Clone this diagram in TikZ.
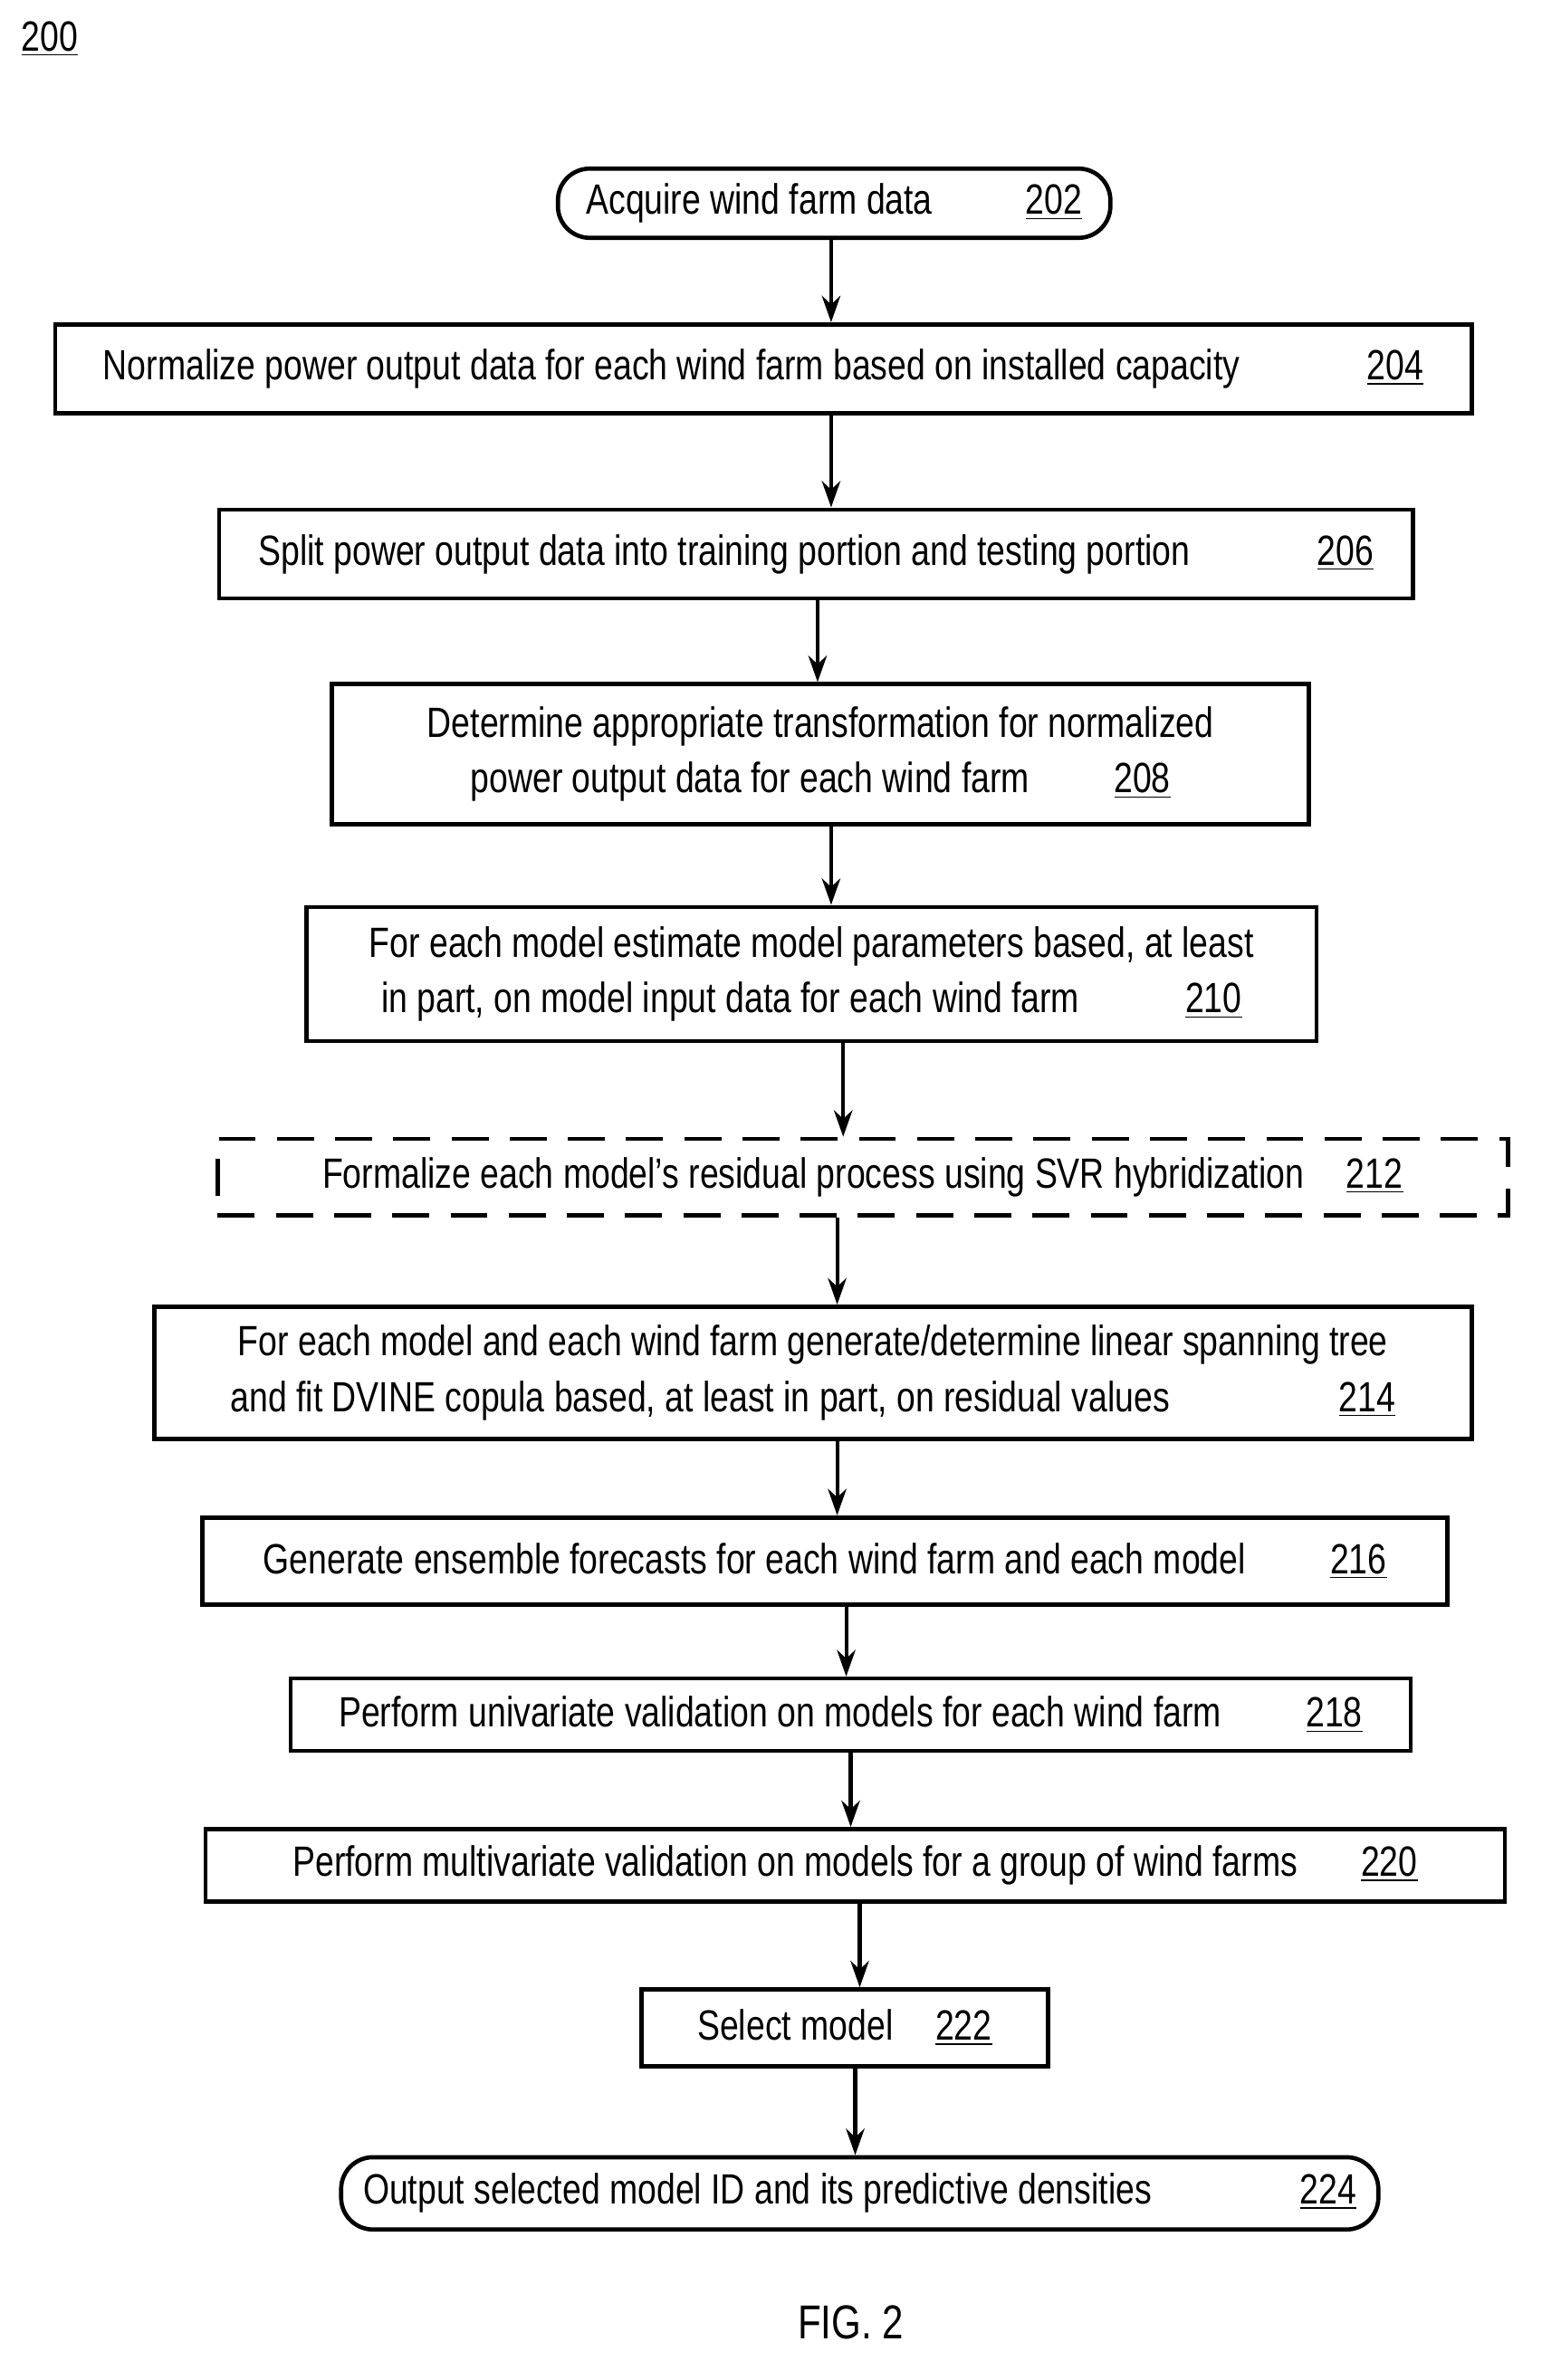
\documentclass[tikz,border=0pt]{standalone}
\usepackage{fontspec}
\setmainfont{Liberation Sans}[FakeStretch=0.8]
\usetikzlibrary{arrows.meta}

\tikzset{
  box/.style={draw, line width=1.6pt, inner sep=2pt, align=center, font=\fontsize{16}{21}\selectfont},
  term/.style={box, rounded corners=12pt},
  arr/.style={-{Stealth[length=10pt,width=7pt]}, line width=1.4pt},
}
\newcommand{\num}[1]{\underline{#1}}

\begin{document}
\begin{tikzpicture}[x=0.02cm,y=-0.02cm]
  \useasboundingbox (0,0) rectangle (1024,1581);

  \node[anchor=north west, font=\fontsize{16}{20}\selectfont] (lbl) at (8,8) {\num{200}};

  \node[term, minimum width=7.34cm, minimum height=0.92cm] (n202) at (554,135) {Acquire wind farm data\hspace{2.2em}\num{202}};
  \node[box, minimum width=18.82cm, minimum height=1.18cm] (n204) at (507,245) {Normalize power output data for each wind farm based on installed capacity\hspace{3em}\num{204}};
  \node[box, minimum width=15.86cm, minimum height=1.18cm] (n206) at (542,368) {Split power output data into training portion and testing portion\hspace{3em}\num{206}};
  \node[box, minimum width=12.98cm, minimum height=1.86cm] (n208) at (545,501) {Determine appropriate transformation for normalized\\power output data for each wind farm\hspace{2em}\num{208}};
  \node[box, minimum width=13.42cm, minimum height=1.78cm] (n210) at (539,647) {For each model estimate model parameters based, at least\\in part, on model input data for each wind farm\hspace{2.5em}\num{210}};
  \node[box, dashed, dash pattern=on 14pt off 8pt, minimum width=17.14cm, minimum height=1.02cm] (n212) at (573,782) {Formalize each model's residual process using SVR hybridization\hspace{1em}\num{212}};
  \node[box, minimum width=17.5cm, minimum height=1.76cm] (n214) at (540,912) {For each model and each wind farm generate/determine linear spanning tree\\and fit DVINE copula based, at least in part, on residual values\hspace{4em}\num{214}};
  \node[box, minimum width=16.54cm, minimum height=1.16cm] (n216) at (548,1037) {Generate ensemble forecasts for each wind farm and each model\hspace{2em}\num{216}};
  \node[box, minimum width=14.88cm, minimum height=0.96cm] (n218) at (565,1139) {Perform univariate validation on models for each wind farm\hspace{2em}\num{218}};
  \node[box, minimum width=17.26cm, minimum height=0.96cm] (n220) at (568,1239) {Perform multivariate validation on models for a group of wind farms\hspace{1.5em}\num{220}};
  \node[box, minimum width=5.4cm, minimum height=1.02cm] (n222) at (561,1347) {Select model\hspace{1em}\num{222}};
  \node[term, minimum width=13.78cm, minimum height=0.96cm] (n224) at (571,1457) {Output selected model ID and its predictive densities\hspace{3.5em}\num{224}};

  \node[font=\fontsize{18}{22}\selectfont] (fig) at (565,1543) {FIG. 2};

  \draw[arr] (n202.south -| 552,0) -- (n204.north -| 552,0);
  \draw[arr] (n204.south -| 552,0) -- (n206.north -| 552,0);
  \draw[arr] (n206.south -| 543,0) -- (n208.north -| 543,0);
  \draw[arr] (n208.south -| 552,0) -- (n210.north -| 552,0);
  \draw[arr] (n210.south -| 560,0) -- (n212.north -| 560,0);
  \draw[arr] (n212.south -| 556,0) -- (n214.north -| 556,0);
  \draw[arr] (n214.south -| 556,0) -- (n216.north -| 556,0);
  \draw[arr] (n216.south -| 562,0) -- (n218.north -| 562,0);
  \draw[arr] (n218.south -| 565,0) -- (n220.north -| 565,0);
  \draw[arr] (n220.south -| 571,0) -- (n222.north -| 571,0);
  \draw[arr] (n222.south -| 568,0) -- (n224.north -| 568,0);

\end{tikzpicture}
\end{document}
